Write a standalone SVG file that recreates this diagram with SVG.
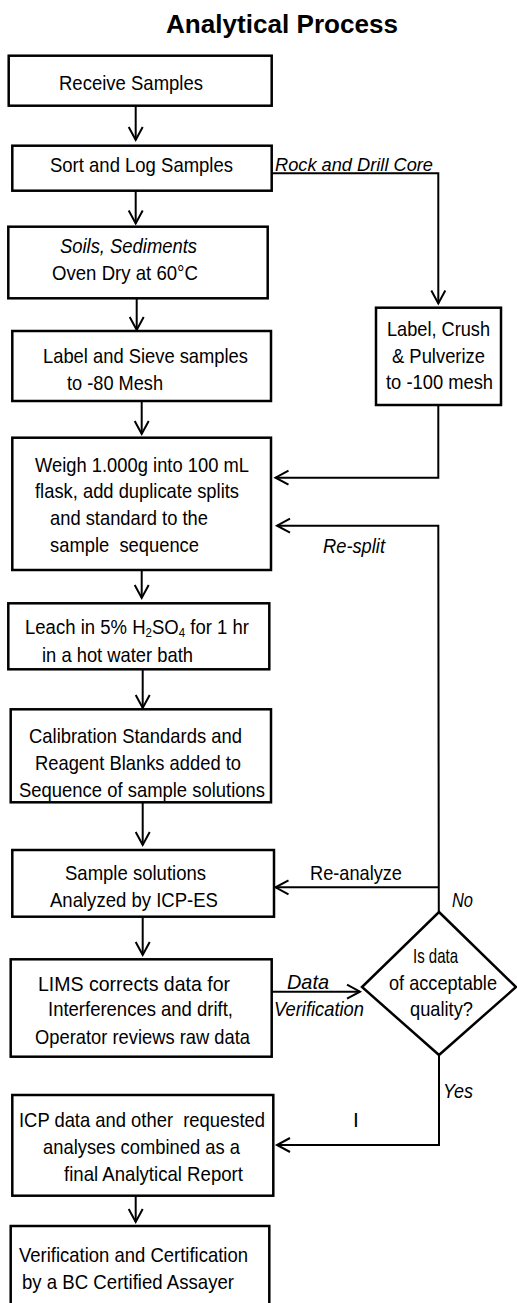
<svg xmlns="http://www.w3.org/2000/svg" width="517" height="1303" viewBox="0 0 517 1303">
<style>
.box{fill:#fff;stroke:#000;stroke-width:2.5}
.c{fill:none;stroke:#000;stroke-width:2}
text{font-family:"Liberation Sans",Arial,sans-serif;font-size:21px;fill:#000}
.i{font-style:italic}
.lbl{font-size:19px}
.title{font-size:25px;font-weight:bold}
</style>
<defs>
<marker id="ah" viewBox="-15 -9 17 18" refX="0" refY="0" markerWidth="17" markerHeight="18" markerUnits="userSpaceOnUse" orient="auto" overflow="visible">
<path d="M-13,-7 L0,0 L-13,7" fill="none" stroke="#000" stroke-width="2"/>
</marker>
</defs>
<rect width="517" height="1303" fill="#fff"/>
<text class="title" x="166" y="33" textLength="232" lengthAdjust="spacingAndGlyphs">Analytical Process</text>

<g id="connectors">
<line class="c" x1="135.7" y1="106" x2="135.7" y2="140" marker-end="url(#ah)"/>
<line class="c" x1="135.7" y1="191" x2="135.7" y2="223.5" marker-end="url(#ah)"/>
<line class="c" x1="136.7" y1="298" x2="136.7" y2="330" marker-end="url(#ah)"/>
<line class="c" x1="141.7" y1="401" x2="141.7" y2="434" marker-end="url(#ah)"/>
<line class="c" x1="141.7" y1="570" x2="141.7" y2="598" marker-end="url(#ah)"/>
<line class="c" x1="142.7" y1="669" x2="142.7" y2="708" marker-end="url(#ah)"/>
<line class="c" x1="142.7" y1="802" x2="142.7" y2="845" marker-end="url(#ah)"/>
<line class="c" x1="142.7" y1="917" x2="142.7" y2="955" marker-end="url(#ah)"/>
<line class="c" x1="135.7" y1="1196" x2="135.7" y2="1222" marker-end="url(#ah)"/>
<polyline class="c" points="271.7,173.3 438.3,173.3 438.3,303.5" marker-end="url(#ah)"/>
<polyline class="c" points="438.3,405 438.3,477.7 275.5,477.7" marker-end="url(#ah)"/>
<polyline class="c" points="438.8,912 438.3,525.7 277,525.7" marker-end="url(#ah)"/>
<polyline class="c" points="438.3,887.3 275.5,887.3" marker-end="url(#ah)"/>
<polyline class="c" points="272,991.7 360,991.7" marker-end="url(#ah)"/>
<polyline class="c" points="439,1055 439,1145 277,1145" marker-end="url(#ah)"/>
<text class="i lbl" x="275" y="170.5" textLength="158" lengthAdjust="spacingAndGlyphs">Rock and Drill Core</text>
<text class="i" x="323" y="553.3" textLength="62" lengthAdjust="spacingAndGlyphs">Re-split</text>
<text x="310" y="880" textLength="92" lengthAdjust="spacingAndGlyphs">Re-analyze</text>
<text class="i" x="452" y="907.3" textLength="21" lengthAdjust="spacingAndGlyphs">No</text>
<text class="i" x="287" y="989.3" textLength="42" lengthAdjust="spacingAndGlyphs">Data</text>
<text class="i" x="274" y="1016" textLength="90" lengthAdjust="spacingAndGlyphs">Verification</text>
<text class="i" x="443" y="1098.3" textLength="30" lengthAdjust="spacingAndGlyphs">Yes</text>
<text x="353" y="1126.7">I</text>
</g>

<g id="receive">
<rect class="box" x="8.7" y="55.7" width="263" height="50"/>
<text x="59" y="90" textLength="144" lengthAdjust="spacingAndGlyphs">Receive Samples</text>
</g>
<g id="sort">
<rect class="box" x="12.3" y="145.7" width="259.4" height="45"/>
<text x="50" y="171.5" textLength="183" lengthAdjust="spacingAndGlyphs">Sort and Log Samples</text>
</g>
<g id="dry">
<rect class="box" x="8.3" y="226.7" width="259.4" height="71.6"/>
<text class="i" x="60" y="253.3" textLength="137" lengthAdjust="spacingAndGlyphs">Soils, Sediments</text>
<text x="52" y="280" textLength="146" lengthAdjust="spacingAndGlyphs">Oven Dry at 60°C</text>
</g>
<g id="sieve">
<rect class="box" x="12.3" y="331" width="258.7" height="70"/>
<text x="43" y="362.7" textLength="205" lengthAdjust="spacingAndGlyphs">Label and Sieve samples</text>
<text x="67" y="390" textLength="96" lengthAdjust="spacingAndGlyphs">to -80 Mesh</text>
</g>
<g id="crush">
<rect class="box" x="376" y="307.7" width="125" height="97.3"/>
<text x="387" y="335.7" textLength="103" lengthAdjust="spacingAndGlyphs">Label, Crush</text>
<text x="392" y="362.7" textLength="93" lengthAdjust="spacingAndGlyphs">&amp; Pulverize</text>
<text x="386" y="389.3" textLength="107" lengthAdjust="spacingAndGlyphs">to -100 mesh</text>
</g>
<g id="weigh">
<rect class="box" x="12.3" y="437.7" width="258.7" height="132.3"/>
<text x="35" y="471.7" textLength="214" lengthAdjust="spacingAndGlyphs">Weigh 1.000g into 100 mL</text>
<text x="35" y="498.3" textLength="204" lengthAdjust="spacingAndGlyphs">flask, add duplicate splits</text>
<text x="50" y="525" textLength="158" lengthAdjust="spacingAndGlyphs">and standard to the</text>
<text x="50" y="551.7" textLength="149" lengthAdjust="spacingAndGlyphs" xml:space="preserve">sample  sequence</text>
</g>
<g id="leach">
<rect class="box" x="8.3" y="603.3" width="261" height="66"/>
<text transform="translate(25,634.3) scale(0.883,1)" x="0" y="0">Leach in 5% H<tspan font-size="13" dy="3">2</tspan><tspan dy="-3">SO</tspan><tspan font-size="13" dy="3">4</tspan><tspan dy="-3"> for 1 hr</tspan></text>
<text x="42" y="662.3" textLength="151" lengthAdjust="spacingAndGlyphs">in a hot water bath</text>
</g>
<g id="calibration">
<rect class="box" x="10.7" y="709.3" width="260.3" height="93"/>
<text x="29" y="743.3" textLength="213" lengthAdjust="spacingAndGlyphs">Calibration Standards and</text>
<text x="35" y="770" textLength="206" lengthAdjust="spacingAndGlyphs">Reagent Blanks added to</text>
<text x="19" y="796.7" textLength="246" lengthAdjust="spacingAndGlyphs">Sequence of sample solutions</text>
</g>
<g id="analyze">
<rect class="box" x="12.3" y="850" width="261.7" height="66.7"/>
<text x="65" y="880" textLength="141" lengthAdjust="spacingAndGlyphs">Sample solutions</text>
<text x="50" y="907.3" textLength="168" lengthAdjust="spacingAndGlyphs">Analyzed by ICP-ES</text>
</g>
<g id="lims">
<rect class="box" x="10.7" y="959.3" width="261" height="97.4"/>
<text x="38" y="991" textLength="192" lengthAdjust="spacingAndGlyphs">LIMS corrects data for</text>
<text x="48" y="1016" textLength="185" lengthAdjust="spacingAndGlyphs">Interferences and drift,</text>
<text x="35" y="1044.3" textLength="215" lengthAdjust="spacingAndGlyphs">Operator reviews raw data</text>
</g>
<g id="decision">
<polygon points="439,912 516,987 439,1055 362,987" fill="#fff" stroke="#000" stroke-width="2.5"/>
<text x="413" y="962.7" textLength="45" lengthAdjust="spacingAndGlyphs">Is data</text>
<text x="389" y="990" textLength="108" lengthAdjust="spacingAndGlyphs">of acceptable</text>
<text x="410" y="1016" textLength="63" lengthAdjust="spacingAndGlyphs">quality?</text>
</g>
<g id="report">
<rect class="box" x="12.3" y="1095" width="261" height="100.7"/>
<text x="19" y="1126.7" textLength="246" lengthAdjust="spacingAndGlyphs" xml:space="preserve">ICP data and other  requested</text>
<text x="43" y="1154" textLength="197" lengthAdjust="spacingAndGlyphs">analyses combined as a</text>
<text x="64" y="1181" textLength="179" lengthAdjust="spacingAndGlyphs">final Analytical Report</text>
</g>
<g id="certify">
<rect class="box" x="10.7" y="1226" width="258.6" height="90"/>
<text x="19" y="1261.7" textLength="229" lengthAdjust="spacingAndGlyphs">Verification and Certification</text>
<text x="22" y="1289.3" textLength="212" lengthAdjust="spacingAndGlyphs">by a BC Certified Assayer</text>
</g>
</svg>
